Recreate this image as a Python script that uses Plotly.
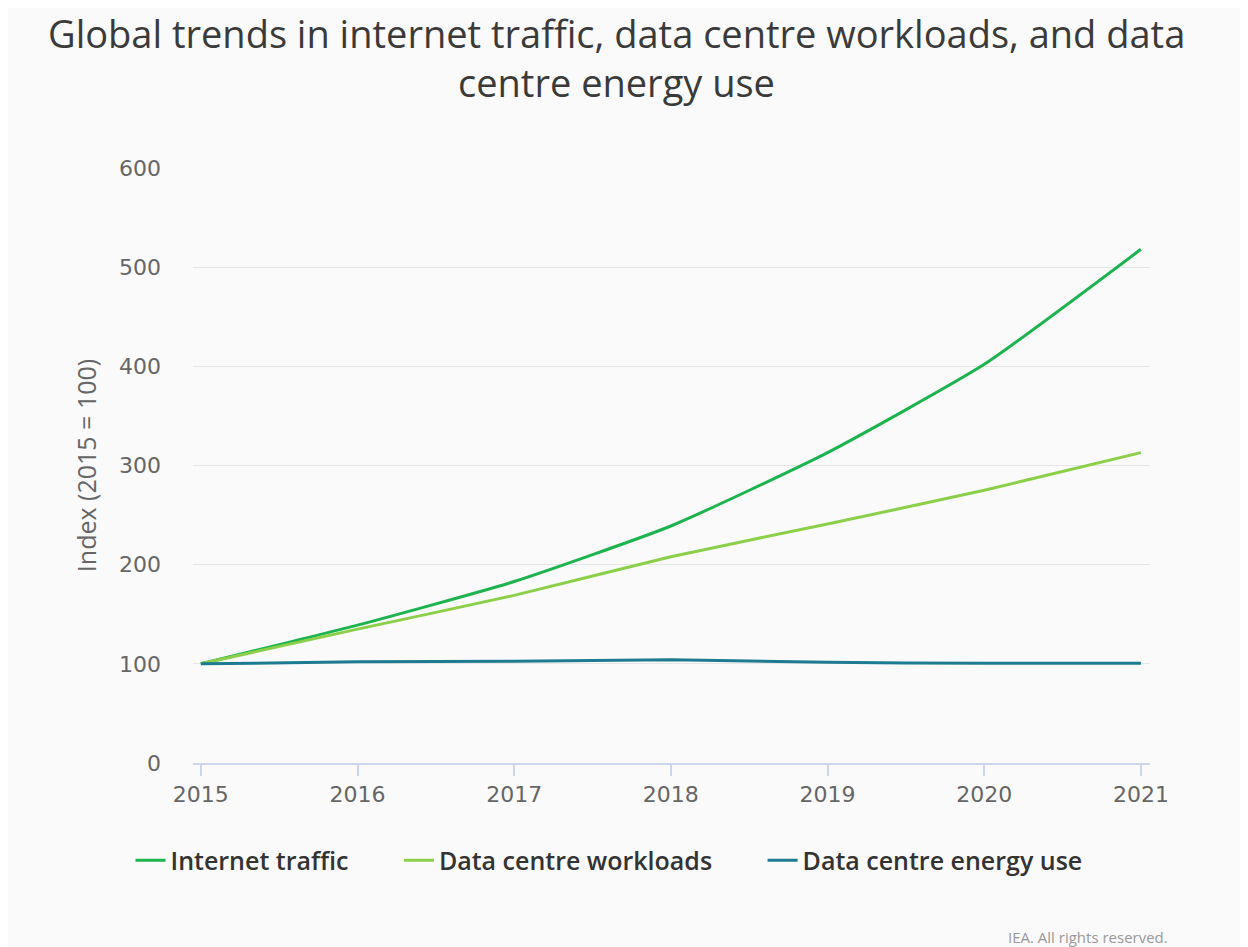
import plotly.graph_objects as go

years = [2015, 2016, 2017, 2018, 2019, 2020, 2021]
internet_traffic = [100, 139, 183, 239, 313, 402, 518]
dc_workloads = [100, 135, 169, 208, 241, 275, 313]
dc_energy = [100, 102, 102.5, 104, 101.5, 100.5, 100.5]

title_lines = ["Global trends in internet traffic, data centre workloads, and data",
               "centre energy use"]

NB = "\u00a0"
series = [
    ("Internet traffic", internet_traffic, "#1db34f", 7),
    ("Data centre workloads", dc_workloads, "#8ccf4a", 7),
    ("Data centre energy use", dc_energy, "#1d7b91", 0),
]

fig = go.Figure()
for name, vals, col, pad in series:
    fig.add_trace(go.Scatter(
        x=years, y=vals, name=name + NB * pad, mode="lines",
        line=dict(color=col, width=3, shape="spline", smoothing=0.5),
    ))

fig.update_layout(
    width=1248, height=947,
    paper_bgcolor="#fafafa", plot_bgcolor="#fafafa",
    margin=dict(l=185, r=106, t=160, b=192),
    showlegend=True,
    legend=dict(
        orientation="h", x=0.4347, xanchor="center", y=-0.125, yanchor="top",
        font=dict(family="Open Sans", size=25, color="#333333", weight=600),
        bgcolor="rgba(0,0,0,0)", tracegroupgap=0,
    ),
    font=dict(family="DejaVu Sans", color="#666666"),
)

for line_txt, fig_y in zip(title_lines, [25.5, 74]):
    fig.add_annotation(
        text=line_txt,
        xref="paper", yref="paper", x=(608 - 185) / 957, xanchor="center",
        y=1 + (160 - fig_y) / 595, yanchor="middle", showarrow=False,
        font=dict(family="Open Sans", size=38, color="#3a3a3a"),
    )

fig.update_xaxes(
    range=[2014.95, 2021.058],
    tickmode="array", tickvals=years, ticktext=[str(y) for y in years],
    showgrid=False, zeroline=False,
    showline=True, linecolor="#ccd6eb", linewidth=1.5,
    ticks="outside", ticklen=11, tickcolor="#ccd6eb", tickwidth=1.5,
    tickfont=dict(family="DejaVu Sans", size=22, color="#666666"),
    ticklabelstandoff=0,
)
fig.update_yaxes(
    range=[0, 600], tickvals=[0, 100, 200, 300, 400, 500, 600],
    showgrid=True, gridcolor="#e6e6e6", gridwidth=1,
    zeroline=False, showline=False, ticks="",
    tickfont=dict(family="DejaVu Sans", size=22, color="#666666"),
    ticklabelstandoff=31,
    title=dict(text="Index (2015 = 100)", standoff=15,
               font=dict(family="Open Sans", size=25, color="#666666")),
)

fig.add_annotation(
    text="IEA. All rights reserved.", xref="paper", yref="paper",
    x=1 + 20 / 957, xanchor="right", y=-(937 - 763) / 595, yanchor="middle",
    showarrow=False, font=dict(family="Open Sans", size=15, color="#999999"),
)

fig.write_html("out.html")
